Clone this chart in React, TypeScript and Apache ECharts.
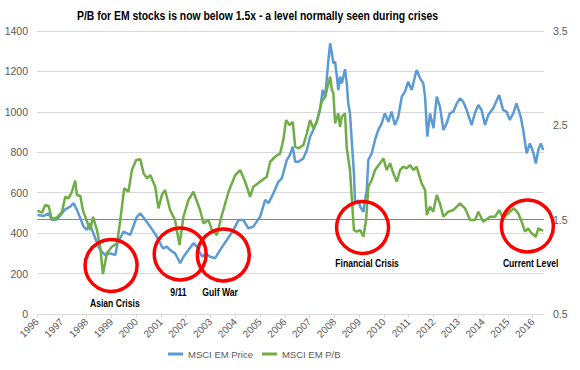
import React, { useEffect, useRef } from 'react';
import * as echarts from 'echarts';

const titleText = 'P/B for EM stocks is now below 1.5x - a level normally seen during crises';
const yearTicks = [1996, 1997, 1998, 1999, 2000, 2001, 2002, 2003, 2004, 2005, 2006, 2007, 2008, 2009, 2010, 2011, 2012, 2013, 2014, 2015, 2016];
const seriesNames = ['MSCI EM Price', 'MSCI EM P/B'];

const priceYears = [
  1996.02, 1996.27, 1996.47, 1996.6, 1996.81, 1997.01, 1997.14, 1997.34, 1997.48, 1997.61, 1997.75, 1997.88,
  1998.02, 1998.12, 1998.22, 1998.35, 1998.48, 1998.62, 1998.75, 1998.96, 1999.16, 1999.25, 1999.49, 1999.76,
  2000.03, 2000.17, 2000.37, 2000.57, 2000.84, 2001.04, 2001.1, 2001.24, 2001.37, 2001.57, 2001.78, 2001.91,
  2002.11, 2002.31, 2002.45, 2002.58, 2002.69, 2002.79, 2002.99, 2003.19, 2003.39, 2003.66, 2003.93, 2004.13,
  2004.33, 2004.53, 2004.73, 2005.0, 2005.21, 2005.34, 2005.54, 2005.74, 2005.88, 2006.08, 2006.21, 2006.32,
  2006.42, 2006.55, 2006.75, 2006.89, 2007.02, 2007.15, 2007.29, 2007.42, 2007.53, 2007.63, 2007.76, 2007.83,
  2007.9, 2007.96, 2008.03, 2008.1, 2008.16, 2008.23, 2008.3, 2008.43, 2008.5, 2008.56, 2008.63, 2008.7,
  2008.79, 2008.83, 2008.9, 2008.97, 2009.04, 2009.17, 2009.24, 2009.31, 2009.37, 2009.51, 2009.64, 2009.77,
  2009.91, 2010.04, 2010.18, 2010.31, 2010.44, 2010.58, 2010.72, 2010.85, 2010.98, 2011.12, 2011.25, 2011.32,
  2011.46, 2011.59, 2011.66, 2011.75, 2011.86, 2012.0, 2012.13, 2012.26, 2012.4, 2012.53, 2012.66, 2012.8,
  2012.94, 2013.07, 2013.2, 2013.34, 2013.54, 2013.67, 2013.81, 2013.94, 2014.08, 2014.21, 2014.41, 2014.65,
  2014.81, 2014.95, 2015.08, 2015.22, 2015.35, 2015.52, 2015.62, 2015.76, 2015.89, 2016.02, 2016.13, 2016.23,
  2016.33, 2016.43
];
const priceValues = [
  490, 485, 498, 465, 468, 498, 518, 531, 548, 515, 473, 432,
  416, 449, 416, 376, 333, 307, 292, 300, 292, 350, 407, 391,
  481, 498, 465, 432, 382, 333, 325, 333, 317, 300, 251, 283,
  317, 350, 333, 300, 283, 300, 283, 276, 317, 366, 416, 465,
  465, 424, 432, 481, 564, 548, 597, 654, 671, 762, 787, 828,
  753, 753, 770, 811, 877, 910, 951, 1009, 1108, 1075, 1257, 1339,
  1290, 1240, 1248, 1174, 1108, 1174, 1141, 1211, 1141, 1042, 993, 861,
  696, 564, 548, 564, 531, 506, 564, 613, 762, 795, 861, 910,
  943, 993, 951, 1001, 935, 976, 1075, 1100, 1149, 1108, 1174, 1207,
  1166, 1141, 1075, 877, 993, 919, 1075, 1026, 910, 943, 993, 1001,
  1042, 1067, 1050, 1009, 935, 993, 1034, 1009, 935, 984, 1018, 1083,
  1009, 1001, 960, 993, 1042, 976, 910, 795, 844, 803, 745, 811,
  844, 811
];

const pbYears = [
  1996.02, 1996.2, 1996.33, 1996.47, 1996.6, 1996.81, 1997.01, 1997.14, 1997.27, 1997.41, 1997.54, 1997.61,
  1997.75, 1997.85, 1998.02, 1998.15, 1998.26, 1998.42, 1998.55, 1998.66, 1998.82, 1999.02, 1999.23, 1999.36,
  1999.52, 1999.69, 1999.83, 2000.0, 2000.17, 2000.3, 2000.44, 2000.57, 2000.77, 2000.9, 2001.04, 2001.17,
  2001.37, 2001.57, 2001.75, 2001.91, 2002.11, 2002.31, 2002.58, 2002.72, 2002.92, 2003.06, 2003.26, 2003.46,
  2003.73, 2004.0, 2004.2, 2004.4, 2004.6, 2004.73, 2005.0, 2005.27, 2005.41, 2005.61, 2005.81, 2005.94,
  2006.05, 2006.19, 2006.32, 2006.42, 2006.55, 2006.75, 2006.89, 2007.02, 2007.15, 2007.29, 2007.49, 2007.63,
  2007.76, 2007.83, 2007.9, 2007.96, 2008.03, 2008.16, 2008.23, 2008.3, 2008.43, 2008.5, 2008.63, 2008.7,
  2008.79, 2008.9, 2009.04, 2009.17, 2009.28, 2009.37, 2009.51, 2009.64, 2009.84, 2009.98, 2010.11, 2010.25,
  2010.38, 2010.52, 2010.65, 2010.78, 2010.92, 2011.05, 2011.19, 2011.32, 2011.52, 2011.66, 2011.73, 2011.86,
  2011.99, 2012.13, 2012.26, 2012.4, 2012.6, 2012.8, 2013.07, 2013.27, 2013.48, 2013.68, 2013.81, 2014.01,
  2014.28, 2014.48, 2014.65, 2014.81, 2015.08, 2015.25, 2015.42, 2015.56, 2015.69, 2015.82, 2015.96, 2016.13,
  2016.23, 2016.36, 2016.43
];
const pbValues = [
  1.595, 1.574, 1.655, 1.645, 1.504, 1.525, 1.584, 1.743, 1.726, 1.796, 1.913, 1.761,
  1.751, 1.602, 1.478, 1.39, 1.531, 1.39, 1.213, 0.924, 1.143, 1.213, 1.249, 1.496,
  1.832, 1.796, 2.026, 2.132, 2.14, 1.991, 1.938, 1.973, 1.849, 1.62, 1.761, 1.814,
  1.602, 1.496, 1.231, 1.531, 1.708, 1.796, 1.602, 1.461, 1.496, 1.39, 1.337, 1.549,
  1.796, 1.973, 2.026, 1.902, 1.743, 1.849, 1.902, 1.955, 2.114, 2.167, 2.203, 2.344,
  2.556, 2.503, 2.538, 2.273, 2.256, 2.291, 2.415, 2.556, 2.468, 2.538, 2.75, 2.803,
  2.945, 3.015, 2.874, 2.839, 2.521, 2.627, 2.485, 2.591, 2.627, 2.256, 2.026, 1.743,
  1.39, 1.372, 1.39, 1.319, 1.496, 1.849, 1.92, 2.026, 2.097, 2.15, 2.026, 2.097,
  1.991, 1.902, 2.026, 2.061, 2.044, 2.079, 2.026, 2.061, 1.885, 1.814, 1.549, 1.637,
  1.584, 1.761, 1.673, 1.531, 1.584, 1.602, 1.673, 1.62, 1.496, 1.496, 1.584, 1.478,
  1.531, 1.531, 1.602, 1.514, 1.584, 1.62, 1.567, 1.478, 1.372, 1.408, 1.355, 1.319,
  1.408, 1.39, 1.383
];

const pbReference = 1.5;

const annotationNames = ['Asian Crisis', '9/11', 'Gulf War', 'Financial Crisis', 'Current Level'];
const annotationYears = [1998.99, 2001.78, 2003.52, 2009.14, 2015.79];
const annotationValues = [240, 297, 292, 428, 435];
const annotationLabelYears = [1999.14, 2001.71, 2003.39, 2009.32, 2015.92];
const annotationLabelValues = [56, 110, 110, 251, 251];

const GRAY = '#595959';
const SANS = '"Liberation Sans", Arial, sans-serif';

export default function App() {
  const ref = useRef<HTMLDivElement>(null);

  useEffect(() => {
    if (!ref.current) return;
    const chart = echarts.init(ref.current, undefined, { renderer: 'svg' });
    const priceData = priceYears.map((y, i) => [y, priceValues[i]]);
    const pbData = pbYears.map((y, i) => [y, pbValues[i]]);

    chart.setOption({
      animation: false,
      backgroundColor: '#ffffff',
      grid: { left: 37, right: 36, top: 31, bottom: 56, containLabel: false },
      legend: {
        left: 163,
        top: 344,
        itemWidth: 15,
        itemHeight: 3,
        itemGap: 9,
        icon: 'rect',
        textStyle: { color: GRAY, fontSize: 9.5, fontFamily: SANS },
        data: seriesNames,
      },
      xAxis: {
        type: 'value',
        min: 1996,
        max: 2016.46,
        interval: 1,
        axisLine: { show: true, lineStyle: { color: '#D9D9D9', width: 1 } },
        axisTick: { show: true, length: 4, lineStyle: { color: '#D9D9D9' }, customValues: yearTicks },
        axisLabel: {
          rotate: 45,
          color: GRAY,
          fontSize: 10,
          fontFamily: SANS,
          margin: 6,
          customValues: yearTicks,
          formatter: (v: number) => String(Math.round(v)),
        },
        splitLine: { show: false },
      },
      yAxis: [
        {
          type: 'value',
          min: 0,
          max: 1400,
          interval: 200,
          axisLine: { show: false },
          axisTick: { show: false },
          axisLabel: { color: GRAY, fontSize: 10.5, fontFamily: SANS, margin: 9, formatter: (v: number) => String(v) },
          splitLine: { show: true, lineStyle: { color: '#D9D9D9', width: 1 } },
        },
        {
          type: 'value',
          min: 0.5,
          max: 3.5,
          interval: 1,
          position: 'right',
          axisLine: { show: false },
          axisTick: { show: false },
          axisLabel: { color: GRAY, fontSize: 10.5, fontFamily: SANS, margin: 9, formatter: (v: number) => String(v) },
          splitLine: { show: false },
        },
      ],
      series: [
        {
          name: seriesNames[0],
          type: 'line',
          yAxisIndex: 0,
          data: priceData,
          showSymbol: false,
          symbol: 'none',
          lineStyle: { color: '#5B9BD5', width: 2.5 },
          itemStyle: { color: '#5B9BD5' },
          z: 2,
        },
        {
          name: seriesNames[1],
          type: 'line',
          yAxisIndex: 1,
          data: pbData,
          showSymbol: false,
          symbol: 'none',
          lineStyle: { color: '#70AD47', width: 2.5 },
          itemStyle: { color: '#70AD47' },
          z: 3,
          markLine: {
            silent: true,
            symbol: ['none', 'none'],
            label: { show: false },
            lineStyle: { color: '#868686', width: 1, type: 'solid' },
            data: [{ yAxis: pbReference }],
            z: 1,
          },
        },
      ],
    });

    const graphics: any[] = [
      {
        type: 'text',
        x: 257.5,
        y: 15,
        scaleX: 0.8,
        z: 100,
        style: {
          text: titleText,
          fill: '#000000',
          font: `bold 13px ${SANS}`,
          align: 'center',
          textAlign: 'center',
          verticalAlign: 'middle',
          textVerticalAlign: 'middle',
        },
      },
    ];
    annotationNames.forEach((name, i) => {
      const c = chart.convertToPixel({ xAxisIndex: 0, yAxisIndex: 0 }, [annotationYears[i], annotationValues[i]]) as number[];
      const l = chart.convertToPixel({ xAxisIndex: 0, yAxisIndex: 0 }, [annotationLabelYears[i], annotationLabelValues[i]]) as number[];
      graphics.push({
        type: 'circle',
        z: 100,
        shape: { cx: c[0], cy: c[1], r: 26 },
        style: { fill: 'none', stroke: '#FF0000', lineWidth: 3.5 },
      });
      graphics.push({
        type: 'text',
        z: 100,
        x: l[0],
        y: l[1],
        scaleX: 0.82,
        style: {
          text: name,
          fill: '#000000',
          font: `bold 10.5px ${SANS}`,
          align: 'center',
          textAlign: 'center',
          verticalAlign: 'middle',
          textVerticalAlign: 'middle',
        },
      });
    });
    chart.setOption({ graphic: graphics });

    return () => chart.dispose();
  }, []);

  return (
    <div
      ref={ref}
      style={{ position: 'absolute', left: 0, top: 0, width: 580, height: 370, background: '#fff' }}
    />
  );
}
